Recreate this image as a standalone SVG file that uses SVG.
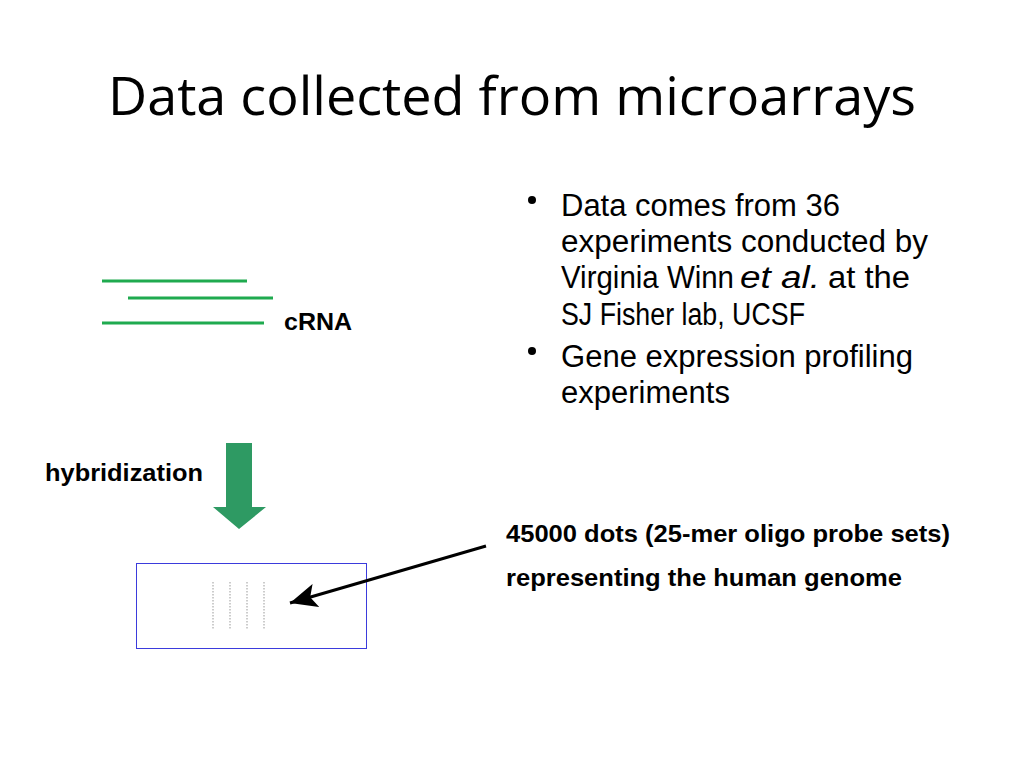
<svg xmlns="http://www.w3.org/2000/svg" width="1024" height="768" viewBox="0 0 1024 768">
<style>
.title{font-family:"Open Sans","Liberation Sans",sans-serif;font-size:53px;fill:#000}
.bul{font-family:"Liberation Sans",Arial,sans-serif;font-size:31px;fill:#000}
.lbl{font-family:"Liberation Sans",Arial,sans-serif;font-size:24px;font-weight:bold;fill:#000}
.rna{stroke:#1faa4f;stroke-width:3;fill:none}
.dot{stroke:#999;stroke-width:1;stroke-dasharray:1.5 1.5;fill:none}
</style>
<defs>
<marker id="ah" markerWidth="10" markerHeight="8" refX="9" refY="4" orient="auto" markerUnits="strokeWidth">
<path d="M0,0 L9,4 L0,8 L2,4 Z" fill="#000"/>
</marker>
</defs>
<rect width="1024" height="768" fill="#fff"/>
<text id="title" class="title" x="108" y="115" textLength="808" lengthAdjust="spacingAndGlyphs">Data collected from microarrays</text>
<g id="bullets">
<circle cx="532" cy="200" r="4"/>
<text class="bul" x="561" y="216" textLength="279" lengthAdjust="spacingAndGlyphs">Data comes from 36</text>
<text class="bul" x="561" y="252" textLength="367" lengthAdjust="spacingAndGlyphs">experiments conducted by</text>
<text class="bul" y="288"><tspan x="561" textLength="173" lengthAdjust="spacingAndGlyphs">Virginia Winn</tspan><tspan x="740" font-style="italic" textLength="80" lengthAdjust="spacingAndGlyphs">et al.</tspan><tspan x="828" textLength="82" lengthAdjust="spacingAndGlyphs">at the</tspan></text>
<text class="bul" x="561" y="325" textLength="244" lengthAdjust="spacingAndGlyphs">SJ Fisher lab, UCSF</text>
<circle cx="532" cy="351" r="4"/>
<text class="bul" x="561" y="367" textLength="352" lengthAdjust="spacingAndGlyphs">Gene expression profiling</text>
<text class="bul" x="561" y="403" textLength="169" lengthAdjust="spacingAndGlyphs">experiments</text>
</g>
<g id="crna">
<line class="rna" x1="102" y1="281" x2="247" y2="281"/>
<line class="rna" x1="128" y1="298" x2="273" y2="298"/>
<line class="rna" x1="102" y1="323" x2="264" y2="323"/>
<text class="lbl" x="284" y="330" textLength="68" lengthAdjust="spacingAndGlyphs">cRNA</text>
</g>
<g id="hybridization">
<text class="lbl" x="45" y="481" textLength="158" lengthAdjust="spacingAndGlyphs">hybridization</text>
<polygon points="226,443 252,443 252,507 266,507 239,529 213,507 226,507" fill="#2e9a63"/>
</g>
<g id="chip">
<rect x="136.5" y="563.5" width="230" height="85" fill="none" stroke="#3b3bdc" stroke-width="1"/>
<line class="dot" x1="213" y1="582" x2="213" y2="630"/>
<line class="dot" x1="230" y1="582" x2="230" y2="630"/>
<line class="dot" x1="247" y1="582" x2="247" y2="630"/>
<line class="dot" x1="264" y1="582" x2="264" y2="630"/>
</g>
<g id="probe-label">
<text class="lbl" x="506" y="542" textLength="444" lengthAdjust="spacingAndGlyphs">45000 dots (25-mer oligo probe sets)</text>
<text class="lbl" x="506" y="586" textLength="396" lengthAdjust="spacingAndGlyphs">representing the human genome</text>
</g>
<g id="connectors">
<line x1="486" y1="546" x2="290" y2="603" stroke="#000" stroke-width="3" marker-end="url(#ah)"/>
</g>
</svg>
